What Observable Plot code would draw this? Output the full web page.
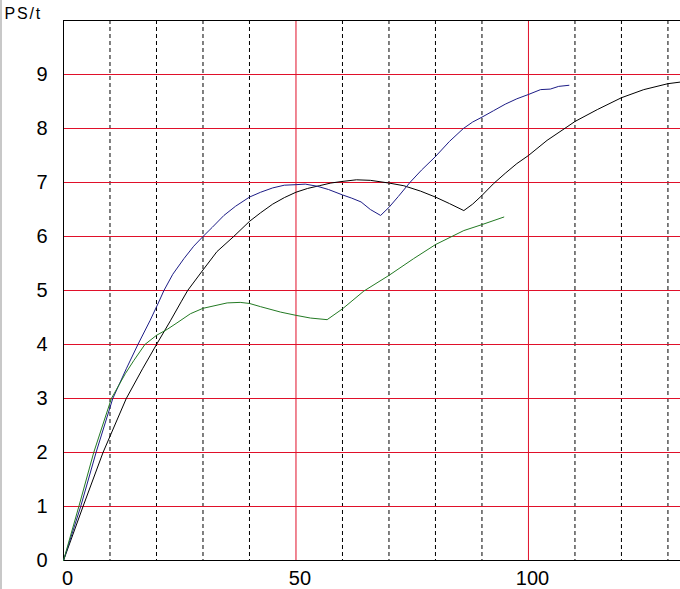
<!DOCTYPE html>
<html>
<head>
<meta charset="utf-8">
<script src="https://cdn.jsdelivr.net/npm/d3@7"></script>
<script src="https://cdn.jsdelivr.net/npm/@observablehq/plot@0.6"></script>
<style>
  html, body { margin: 0; padding: 0; background: #fff; }
  #wrap { position: relative; width: 680px; height: 589px; overflow: hidden; }
  #edge { position: absolute; left: 0; top: 0; width: 2px; height: 589px; background: #c8c8c8; }
  .pslabel text { letter-spacing: 1.8px; }
</style>
</head>
<body>
<div id="wrap"><div id="edge"></div></div>
<script>
// ---- data ----
const yTicks = [0, 1, 2, 3, 4, 5, 6, 7, 8, 9];
const xTicks = [0, 50, 100];
const redGridY = [1, 2, 3, 4, 5, 6, 7, 8, 9];
const redGridX = [50, 100];
const dashGridX = [10, 20, 30, 40, 60, 70, 80, 90, 110, 120, 130];
const yLabel = "PS/t";

const blueX = [0, 3.7, 7.0, 10.6, 13.5, 16.0, 18.6, 20.4, 21.6, 23.5, 25.9, 28, 30, 32, 34.5, 37, 40, 42.4, 45, 47.5, 50, 52, 54.6, 57, 60, 62, 64, 66, 68.2, 70, 72, 74.5, 77, 80, 83, 86, 88, 90, 92.5, 95, 97.5, 100, 102.6, 104.7, 106.5, 108.7];
const blueY = [0, 1, 2, 3, 3.55, 4, 4.44, 4.77, 5, 5.3, 5.59, 5.82, 6.0, 6.17, 6.39, 6.56, 6.73, 6.82, 6.9, 6.95, 6.96, 6.97, 6.93, 6.87, 6.77, 6.71, 6.64, 6.5, 6.39, 6.54, 6.74, 7.0, 7.23, 7.48, 7.76, 8.0, 8.12, 8.21, 8.33, 8.45, 8.55, 8.63, 8.72, 8.73, 8.78, 8.8];

const blackX = [0, 4.2, 8.5, 13.5, 17, 20, 23, 25.3, 26.7, 30, 33, 36.6, 40, 42.4, 45, 47.5, 50, 52.5, 55, 57.5, 60, 63, 66, 70, 73.2, 76.8, 80, 83, 86.1, 88, 90, 92.5, 95, 97.5, 100, 104, 108.3, 110, 114.8, 120, 124.8, 130, 132.7];
const blackY = [0, 1, 2, 3, 3.55, 4, 4.44, 4.79, 5, 5.38, 5.72, 6, 6.28, 6.44, 6.6, 6.72, 6.82, 6.89, 6.94, 6.99, 7.02, 7.05, 7.04, 6.99, 6.94, 6.84, 6.73, 6.61, 6.48, 6.6, 6.76, 6.98, 7.17, 7.35, 7.5, 7.78, 8.03, 8.13, 8.35, 8.57, 8.72, 8.83, 8.86];

const greenX = [0, 3.3, 6.5, 10.3, 13.3, 15.1, 17.5, 20, 22.3, 24.4, 27.3, 30, 35.2, 38, 40, 42.4, 46.7, 50, 53.1, 56.7, 60, 64.6, 70, 75.3, 80, 86.1, 90, 94.7];
const greenY = [0, 1, 2, 3, 3.46, 3.7, 4, 4.17, 4.28, 4.4, 4.57, 4.67, 4.77, 4.78, 4.76, 4.70, 4.60, 4.54, 4.49, 4.46, 4.66, 4.99, 5.28, 5.59, 5.85, 6.11, 6.22, 6.36];

const toPts = (xs, ys) => xs.map((x, i) => ({x, y: ys[i]}));
const blue = toPts(blueX, blueY);
const black = toPts(blackX, blackY);
const green = toPts(greenX, greenY);

const RED = "#e0102a";
const FONT = "Liberation Sans, Arial, sans-serif";

const chart = Plot.plot({
  width: 680,
  height: 589,
  marginLeft: 63,
  marginRight: 0,
  marginTop: 20,
  marginBottom: 29,
  style: {fontFamily: FONT, background: "transparent", color: "#000"},
  x: {domain: [0, 132.7]},
  y: {domain: [0, 10]},
  marks: [
    Plot.ruleX(dashGridX, {stroke: "#000", strokeWidth: 1, strokeDasharray: "4,3"}),
    Plot.ruleX(redGridX, {stroke: RED, strokeWidth: 1}),
    Plot.ruleY(redGridY, {stroke: RED, strokeWidth: 1}),
    Plot.frame({stroke: "#000", strokeWidth: 1}),
    Plot.line(black, {x: "x", y: "y", stroke: "#000", strokeWidth: 1, clip: true}),
    Plot.line(blue, {x: "x", y: "y", stroke: "#1c1c86", strokeWidth: 1}),
    Plot.line(green, {x: "x", y: "y", stroke: "#237a23", strokeWidth: 1}),
    Plot.axisY(yTicks, {tickSize: 0, tickPadding: 16, fontSize: 20, label: null, tickFormat: d => String(d)}),
    Plot.axisX(xTicks, {tickSize: 0, tickPadding: 10, fontSize: 20, label: null, dx: 4, tickFormat: d => String(d)}),
    Plot.text([yLabel], {frameAnchor: "top-left", text: d => d, dx: -59, dy: -7, textAnchor: "start", lineAnchor: "middle", fontSize: 16, fill: "#000", className: "pslabel"})
  ]
});
document.getElementById("wrap").appendChild(chart);
</script>
</body>
</html>
